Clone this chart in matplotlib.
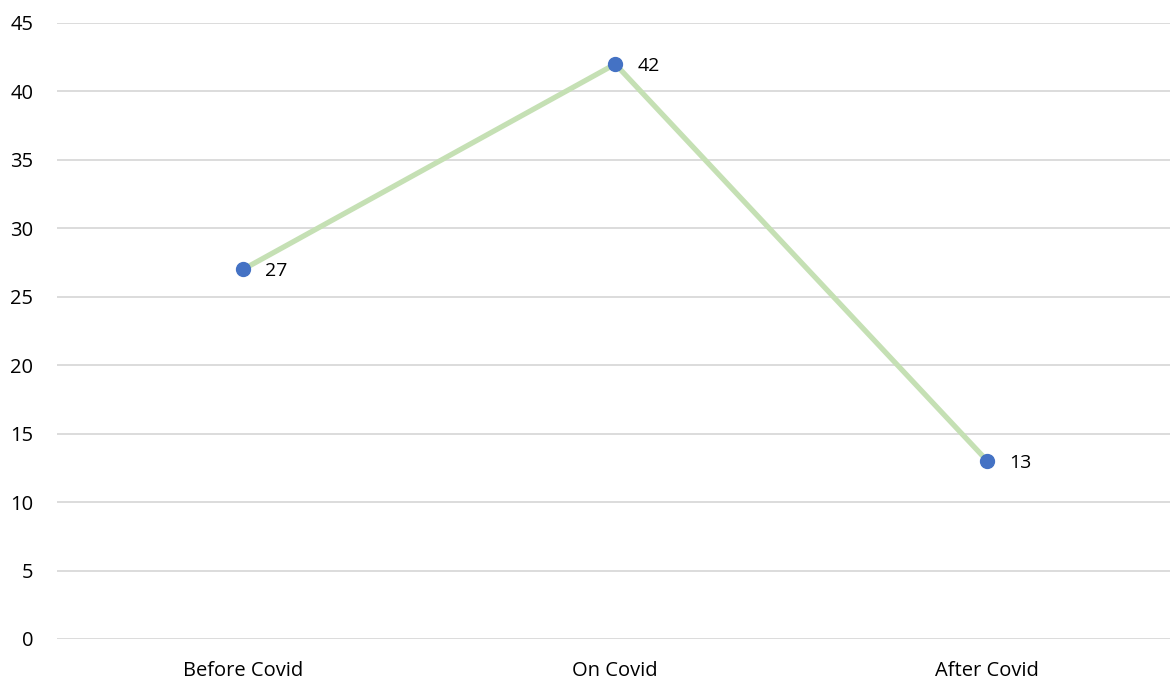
import matplotlib.pyplot as plt

# --- Data ---
categories = ['Before Covid', 'On Covid', 'After Covid']
values = [27, 42, 13]
y_ticks = [0, 5, 10, 15, 20, 25, 30, 35, 40, 45]

plt.rcParams['font.family'] = ['Open Sans', 'DejaVu Sans']

fig = plt.figure(figsize=(11.7, 6.81), dpi=100)
ax = fig.add_axes([57 / 1170, 1 - 639 / 681, 1 - 57 / 1170 + 0.003, (639 - 23) / 681])

x = list(range(len(categories)))
ax.plot(x, values, color='#C5E0B4', linewidth=3.8, zorder=2)
ax.plot(x, values, 'o', color='#4472C4', markersize=10, zorder=3)

for xi, v in zip(x, values):
    ax.annotate(str(v), (xi, v), xytext=(16, -1.5), textcoords='offset points',
                va='center', ha='left', fontsize=14, color='black')

ax.set_xlim(-0.5, 2.5)
ax.set_ylim(0, 45)
ax.set_yticks(y_ticks)
ax.set_xticks(x)
ax.set_xticklabels(categories)
ax.tick_params(axis='both', length=0, labelsize=14.5, colors='black')
ax.tick_params(axis='y', pad=17)
ax.tick_params(axis='x', pad=16)
ax.grid(axis='y', color='#D9D9D9', linewidth=1.3, zorder=0)
ax.set_axisbelow(True)
for s in ax.spines.values():
    s.set_visible(False)

fig.savefig('out.png', dpi=100)
